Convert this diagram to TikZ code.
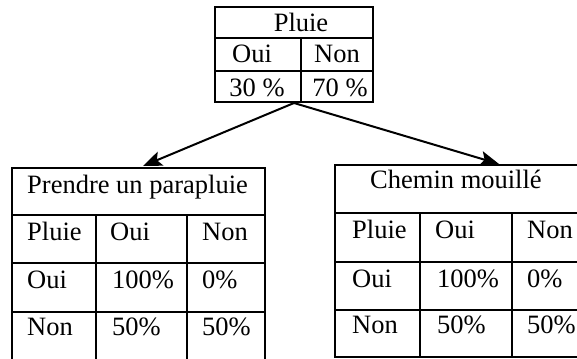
\documentclass[tikz,border=0pt]{standalone}
\usepackage{fontspec}
\setmainfont{Liberation Serif}
\usetikzlibrary{arrows.meta}
\begin{document}
\begin{tikzpicture}[x=1pt,y=-1pt,
  cell/.style={draw, line width=1.6pt, inner sep=0pt, outer sep=0pt, anchor=north west},
  txt/.style={inner sep=0pt, font=\fontsize{26.5}{30}\selectfont},
  arr/.style={line width=2pt, -{Stealth[length=19pt,width=15pt,inset=4pt]}}]
\useasboundingbox (0,0) rectangle (577,358);
\clip (0,0) rectangle (577,358);
% top table
\node[cell, minimum width=158pt, minimum height=31pt] (t1) at (215,7) {};
\node[cell, minimum width=86pt, minimum height=33pt] (t21) at (215,38) {};
\node[cell, minimum width=72pt, minimum height=33pt] (t22) at (301,38) {};
\node[cell, minimum width=86pt, minimum height=31pt] (t31) at (215,71) {};
\node[cell, minimum width=72pt, minimum height=31pt] (t32) at (301,71) {};
\node[txt, anchor=base] (tx1) at (301,32) {Pluie};
\node[txt, anchor=base] (tx21) at (252,63) {Oui};
\node[txt, anchor=base] (tx22) at (337,63) {Non};
\node[txt, anchor=base] (tx31) at (257,97) {30 \%};
\node[txt, anchor=base] (tx32) at (340,97) {70 \%};
% left table
\node[cell, minimum width=253pt, minimum height=47pt] (l1) at (12,168) {};
\foreach \r/\y/\h in {2/215/48, 3/263/49, 4/312/60}{
  \node[cell, minimum width=84pt, minimum height=\h pt] (l\r1) at (12,\y) {};
  \node[cell, minimum width=91pt, minimum height=\h pt] (l\r2) at (96,\y) {};
  \node[cell, minimum width=78pt, minimum height=\h pt] (l\r3) at (187,\y) {};
}
\node[txt, anchor=base west] (lx1) at (27,193) {Prendre un parapluie};
\node[txt, anchor=base west] (lx21) at (27,240) {Pluie};
\node[txt, anchor=base west] (lx22) at (110,240) {Oui};
\node[txt, anchor=base west] (lx23) at (202,240) {Non};
\node[txt, anchor=base west] (lx31) at (27,288) {Oui};
\node[txt, anchor=base west] (lx32) at (112,288) {100\%};
\node[txt, anchor=base west] (lx33) at (202,288) {0\%};
\node[txt, anchor=base west] (lx41) at (27,335) {Non};
\node[txt, anchor=base west] (lx42) at (112,335) {50\%};
\node[txt, anchor=base west] (lx43) at (202,335) {50\%};
% right table
\node[cell, minimum width=265pt, minimum height=48pt] (r1) at (335,165) {};
\foreach \r/\y/\h in {2/213/49, 3/262/48, 4/310/47}{
  \node[cell, minimum width=85pt, minimum height=\h pt] (r\r1) at (335,\y) {};
  \node[cell, minimum width=92pt, minimum height=\h pt] (r\r2) at (420,\y) {};
  \node[cell, minimum width=88pt, minimum height=\h pt] (r\r3) at (512,\y) {};
}
\node[txt, anchor=base west] (rx1) at (370,188) {Chemin mouillé};
\node[txt, anchor=base west] (rx21) at (352,238) {Pluie};
\node[txt, anchor=base west] (rx22) at (435,238) {Oui};
\node[txt, anchor=base west] (rx23) at (527,238) {Non};
\node[txt, anchor=base west] (rx31) at (352,287) {Oui};
\node[txt, anchor=base west] (rx32) at (437,287) {100\%};
\node[txt, anchor=base west] (rx33) at (527,287) {0\%};
\node[txt, anchor=base west] (rx41) at (352,333) {Non};
\node[txt, anchor=base west] (rx42) at (437,333) {50\%};
\node[txt, anchor=base west] (rx43) at (527,333) {50\%};
% arrows
\coordinate (s) at (294,103);
\coordinate (le) at (143,166);
\coordinate (re) at (499,164);
\draw[arr] (s) -- (le);
\draw[arr] (s) -- (re);
\end{tikzpicture}
\end{document}
